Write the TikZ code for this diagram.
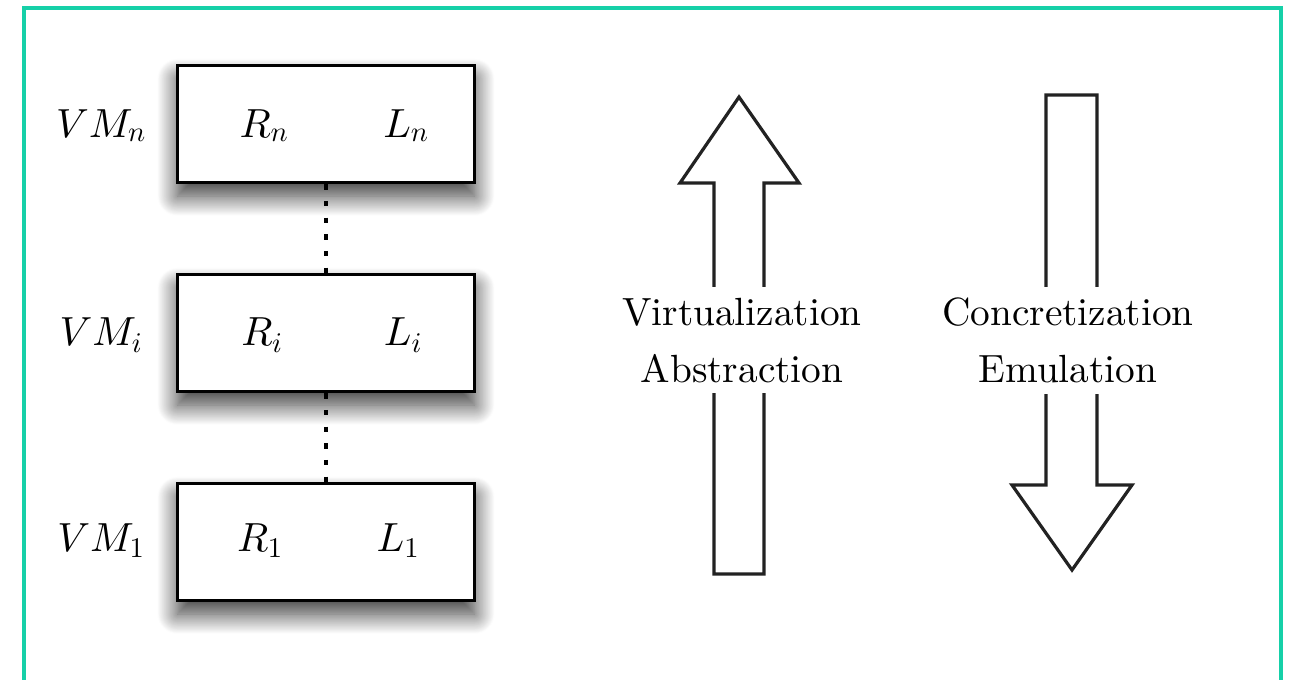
\documentclass[tikz,border=0pt]{standalone}
\usepackage{fontspec}
\setmainfont{lmroman10-regular}[Extension=.otf,
  ItalicFont=lmroman10-italic, BoldFont=lmroman10-bold]
% scale the 10pt math designs to every size
\DeclareFontShape{OML}{cmm}{m}{it}{<->cmmi10}{}
\DeclareFontShape{OT1}{cmr}{m}{n}{<->cmr10}{}
\usetikzlibrary{shadows.blur}
\definecolor{frameteal}{RGB}{22,208,168}
\definecolor{inkgray}{RGB}{34,34,34}
\tikzset{
  bigtext/.style={font=\fontsize{29.5}{42.75}\selectfont},
  mathtext/.style={font=\fontsize{30.5}{36}\selectfont},
  vmbox/.style={draw=black, line width=2.4pt, fill=white, inner sep=0pt,
    minimum width=223pt, minimum height=88pt,
    blur shadow={shadow xshift=0pt, shadow yshift=-10pt,
      shadow blur radius=15pt, shadow blur steps=24, shadow opacity=80}},
  vmlabel/.style={mathtext, anchor=base, inner sep=0pt},
  levellink/.style={line width=2.3pt, dash pattern=on 4pt off 8.5pt},
  bigarrow/.style={draw=inkgray, line width=2.4pt, line join=miter, fill=white},
  arrowtext/.style={bigtext, align=center, fill=white, anchor=north,
    inner xsep=4pt, inner ysep=8pt},
}
\begin{document}
\begin{tikzpicture}[x=0.75pt, y=-0.75pt]
  \useasboundingbox (0,0) rectangle (1294,679);
  \clip (0,0) rectangle (1294,679);

  % outer frame, open at the bottom edge of the page
  \draw[frameteal, line width=3.2pt] (24,8) rectangle (1281,740);

  % the stack of virtual machines
  \node[vmbox] (vmn) at (326,124) {};
  \node[vmbox] (vmi) at (326,333) {};
  \node[vmbox] (vm1) at (326,542) {};

  \draw[levellink] (vmn.south) -- (vmi.north);
  \draw[levellink] (vmi.south) -- (vm1.north);

  \node[vmlabel] (namen) at (101,137) {$VM_n$};
  \node[vmlabel] (namei) at (101,345) {$VM_i$};
  \node[vmlabel] (name1) at (101,551) {$VM_1$};

  \node[vmlabel] (rn) at (264,137) {$R_n$};
  \node[vmlabel] (ln) at (406,137) {$L_n$};
  \node[vmlabel] (ri) at (262,345) {$R_i$};
  \node[vmlabel] (li) at (403,345) {$L_i$};
  \node[vmlabel] (r1) at (260,551) {$R_1$};
  \node[vmlabel] (l1) at (398,551) {$L_1$};

  % upward block arrow
  \draw[bigarrow] (714,574) -- (714,183) -- (680,183) -- (739,97)
    -- (799,183) -- (764,183) -- (764,574) -- cycle;
  % downward block arrow
  \draw[bigarrow] (1046,95) -- (1046,485) -- (1012,485) -- (1072,570)
    -- (1132,485) -- (1097,485) -- (1097,95) -- cycle;

  \node[arrowtext] (upwords) at (742,287) {Virtualization\\Abstraction};
  \node[arrowtext] (downwords) at (1068,287) {Concretization\\Emulation};
\end{tikzpicture}
\end{document}
